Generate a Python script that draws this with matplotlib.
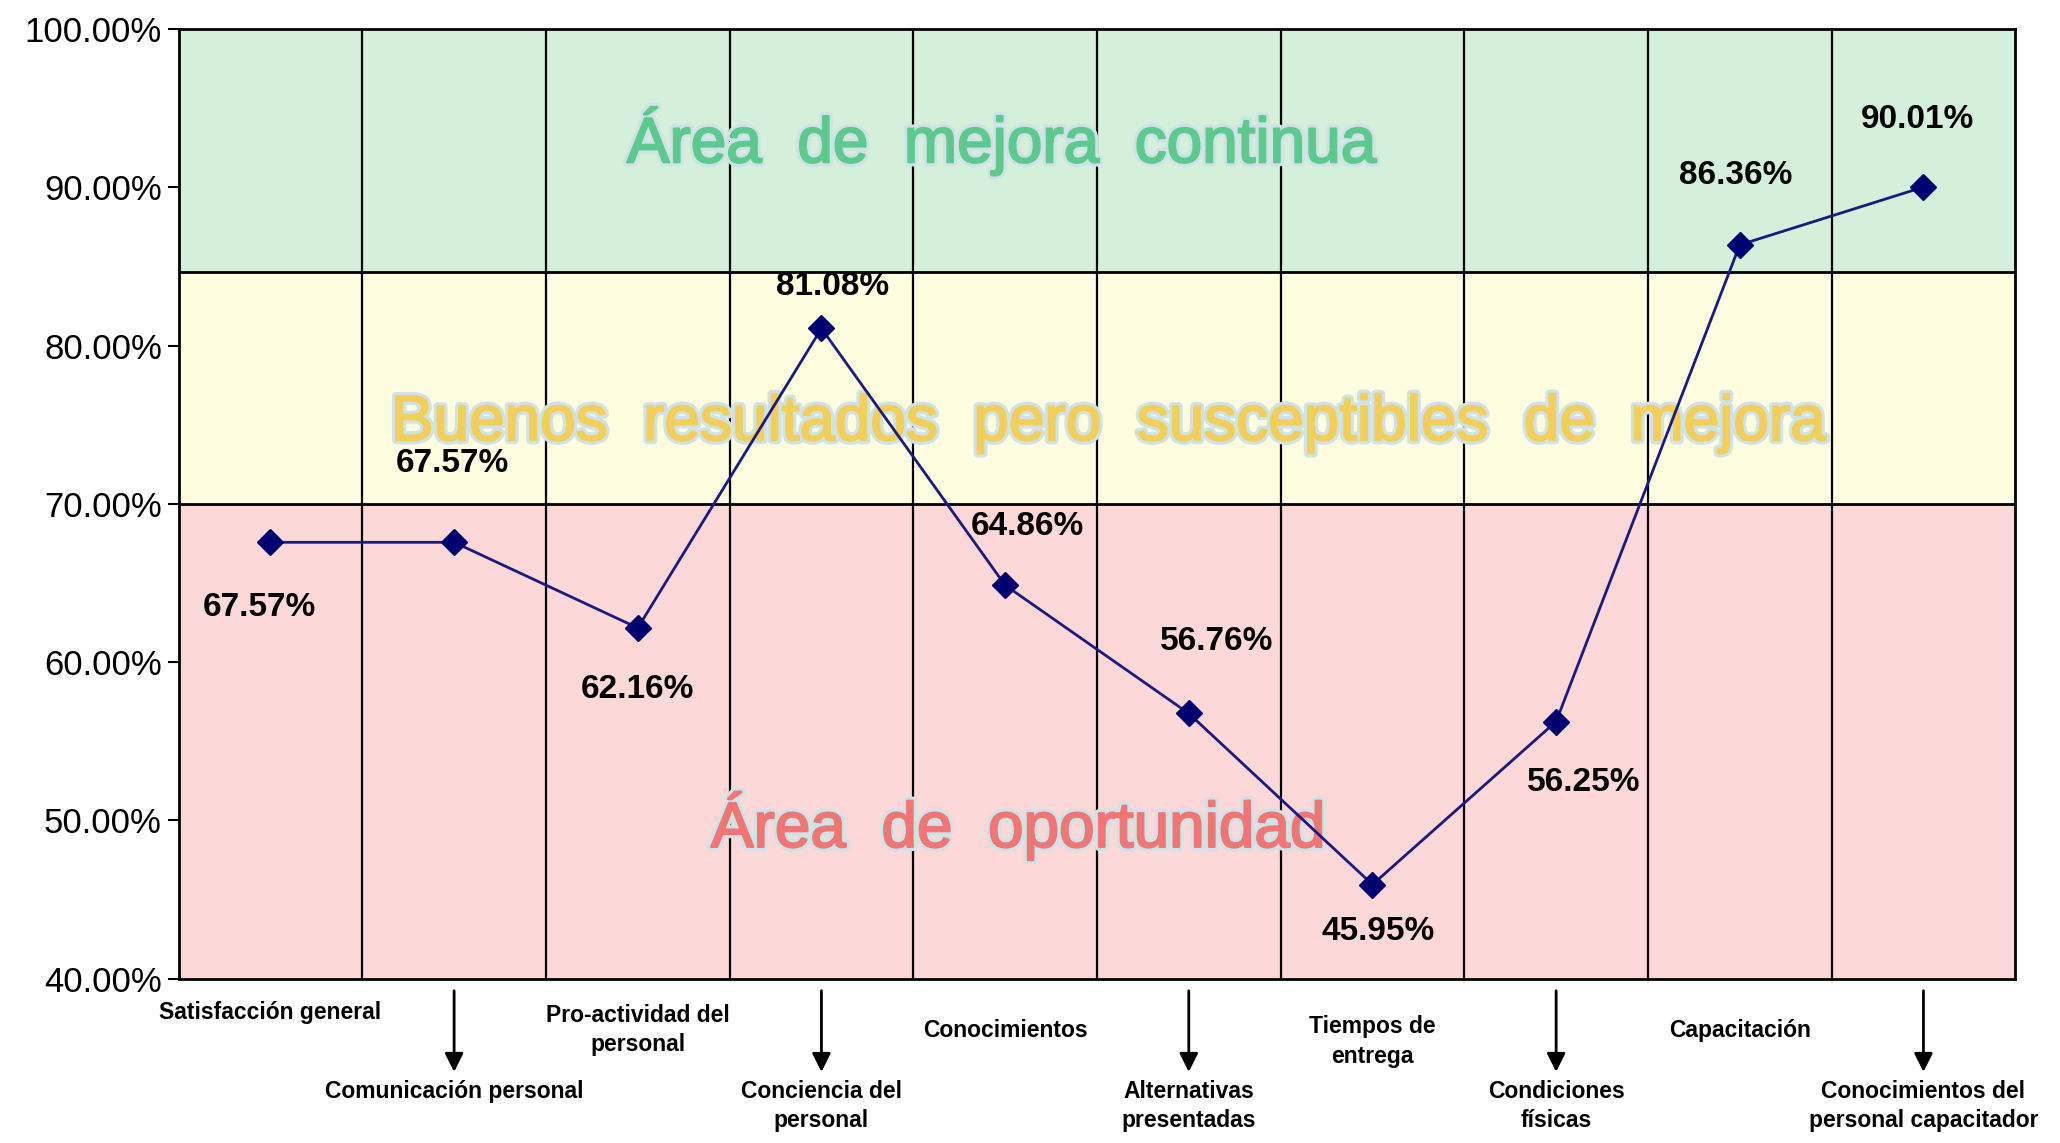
import matplotlib
matplotlib.use("Agg")
import matplotlib.pyplot as plt
import matplotlib.patheffects as pe
from matplotlib.transforms import blended_transform_factory

# Data
upper_labels = ["Satisfacción general", "Pro-actividad del\npersonal", "Conocimientos",
                "Tiempos de\nentrega", "Capacitación"]
lower_labels = ["Comunicación personal", "Conciencia del\npersonal", "Alternativas\npresentadas",
                "Condiciones\nfísicas", "Conocimientos del\npersonal capacitador"]
values = [67.57, 67.57, 62.16, 81.08, 64.86, 56.76, 45.95, 56.25, 86.36, 90.01]
value_labels = ["67.57%", "67.57%", "62.16%", "81.08%", "64.86%",
                "56.76%", "45.95%", "56.25%", "86.36%", "90.01%"]
bands = [(40, 70, "#fdd8d8"), (70, 84.65, "#fefde0"), (84.65, 100, "#d4f0da")]
band_texts = ["Área  de  mejora  continua",
              "Buenos  resultados  pero  susceptibles  de  mejora",
              "Área  de  oportunidad"]
band_colors = ["#5ec98e", "#f2cf5b", "#f07676"]
yticks = [40, 50, 60, 70, 80, 90, 100]

# layout of annotations (offsets in points)
label_offsets = [(-8, -47), (-1, 57), (0, -44), (8, 30), (16, 42),
                 (20, 52), (4, -34), (20, -44), (-3, 50), (-4, 49)]
upper_y = [-0.036, -0.054, -0.054, -0.066, -0.055]
band_pos = [(3.98, 92.95), (4.56, 75.1), (4.07, 49.7)]

FONT = ["Liberation Sans", "DejaVu Sans"]
n = len(values)
x = list(range(n))

fig = plt.figure(figsize=(20.6, 11.43), dpi=100)
ax = fig.add_axes([0.0867, 0.1437, 0.8916, 0.831])

for lo, hi, c in bands:
    ax.axhspan(lo, hi, color=c, zorder=0, lw=0)
for lo, hi, c in bands[1:]:
    ax.axhline(lo, color="black", lw=2, zorder=1)
for k in range(1, n):
    ax.axvline(k - 0.5, color="black", lw=1.6, zorder=1)

ax.set_xlim(-0.5, n - 0.5)
ax.set_ylim(40, 100)
ax.set_xticks([])
ax.set_yticks(yticks)
ax.set_yticklabels([f"{v:.2f}%" for v in yticks], fontsize=25, family=FONT)
ax.tick_params(axis="y", length=8, width=1.5, pad=4)
for s in ax.spines.values():
    s.set_linewidth(2)
    s.set_color("black")

# band captions with a pale glow
for (bx, by), txt, col in zip(band_pos, band_texts, band_colors):
    effects = [pe.Stroke(linewidth=6, foreground="#cfe3e6"),
               pe.Stroke(linewidth=1.5, foreground=col), pe.Normal()]
    ax.text(bx, by, txt, color=col, fontsize=46, family=FONT,
            ha="center", va="center", path_effects=effects, zorder=2)

ax.plot(x, values, color="#1a1a80", lw=2, marker="D", markersize=13,
        markerfacecolor="#000070", markeredgecolor="#000070", zorder=4)

for xi, v, lab, off in zip(x, values, value_labels, label_offsets):
    ax.annotate(lab, (xi, v), xytext=off, textcoords="offset points",
                ha="center", va="center", fontsize=24, fontweight="bold",
                family=FONT, zorder=5)

trans = blended_transform_factory(ax.transData, ax.transAxes)
for i, lab in enumerate(upper_labels):
    ax.text(2 * i, upper_y[i], lab, transform=trans, ha="center", va="center",
            fontsize=16.5, fontweight="bold", family=FONT, linespacing=1.35)
for i, lab in enumerate(lower_labels):
    xi = 2 * i + 1
    ax.annotate("", xy=(xi, -0.101), xytext=(xi, -0.0097), xycoords=trans,
                textcoords=trans, annotation_clip=False,
                arrowprops=dict(arrowstyle="-|>", color="black", lw=2, mutation_scale=28))
    ax.text(xi, -0.1065, lab, transform=trans, ha="center", va="top",
            fontsize=16.5, fontweight="bold", family=FONT, linespacing=1.35)

fig.savefig("out.png", dpi=100, facecolor="white")
